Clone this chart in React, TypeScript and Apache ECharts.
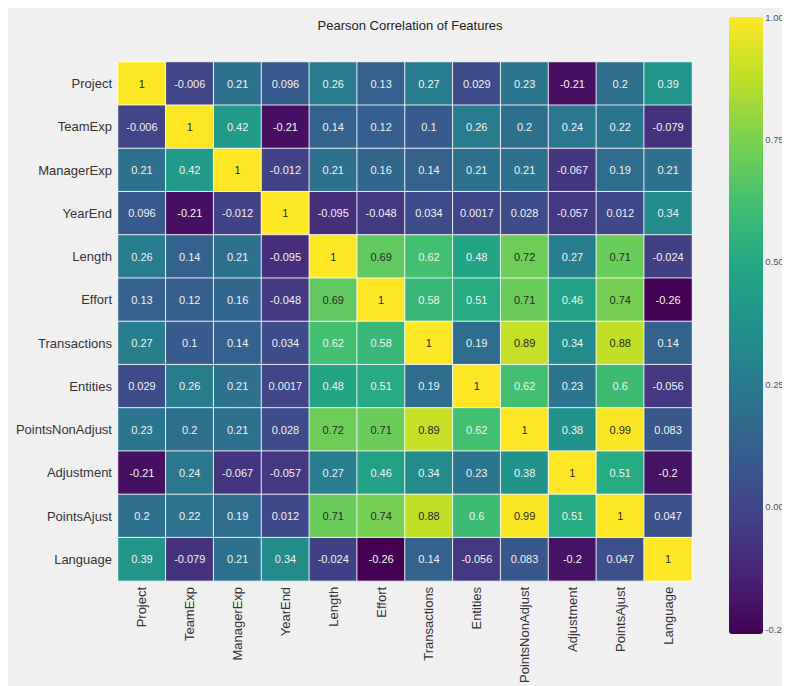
import React, { useEffect, useRef } from "react";
import * as echarts from "echarts";

const features = [
  "Project",
  "TeamExp",
  "ManagerExp",
  "YearEnd",
  "Length",
  "Effort",
  "Transactions",
  "Entities",
  "PointsNonAdjust",
  "Adjustment",
  "PointsAjust",
  "Language",
];

const rowProject = [1, -0.006, 0.21, 0.096, 0.26, 0.13, 0.27, 0.029, 0.23, -0.21, 0.2, 0.39];
const rowTeamExp = [-0.006, 1, 0.42, -0.21, 0.14, 0.12, 0.1, 0.26, 0.2, 0.24, 0.22, -0.079];
const rowManagerExp = [0.21, 0.42, 1, -0.012, 0.21, 0.16, 0.14, 0.21, 0.21, -0.067, 0.19, 0.21];
const rowYearEnd = [0.096, -0.21, -0.012, 1, -0.095, -0.048, 0.034, 0.0017, 0.028, -0.057, 0.012, 0.34];
const rowLength = [0.26, 0.14, 0.21, -0.095, 1, 0.69, 0.62, 0.48, 0.72, 0.27, 0.71, -0.024];
const rowEffort = [0.13, 0.12, 0.16, -0.048, 0.69, 1, 0.58, 0.51, 0.71, 0.46, 0.74, -0.26];
const rowTransactions = [0.27, 0.1, 0.14, 0.034, 0.62, 0.58, 1, 0.19, 0.89, 0.34, 0.88, 0.14];
const rowEntities = [0.029, 0.26, 0.21, 0.0017, 0.48, 0.51, 0.19, 1, 0.62, 0.23, 0.6, -0.056];
const rowPointsNonAdjust = [0.23, 0.2, 0.21, 0.028, 0.72, 0.71, 0.89, 0.62, 1, 0.38, 0.99, 0.083];
const rowAdjustment = [-0.21, 0.24, -0.067, -0.057, 0.27, 0.46, 0.34, 0.23, 0.38, 1, 0.51, -0.2];
const rowPointsAjust = [0.2, 0.22, 0.19, 0.012, 0.71, 0.74, 0.88, 0.6, 0.99, 0.51, 1, 0.047];
const rowLanguage = [0.39, -0.079, 0.21, 0.34, -0.024, -0.26, 0.14, -0.056, 0.083, -0.2, 0.047, 1];

const matrix = [
  rowProject,
  rowTeamExp,
  rowManagerExp,
  rowYearEnd,
  rowLength,
  rowEffort,
  rowTransactions,
  rowEntities,
  rowPointsNonAdjust,
  rowAdjustment,
  rowPointsAjust,
  rowLanguage,
];

const colorbarTicks = [-0.25, 0, 0.25, 0.5, 0.75, 1];
const scaleMin = -0.26;
const scaleMax = 1;

const viridis = [
  "#440154",
  "#482475",
  "#414487",
  "#355f8d",
  "#2a788e",
  "#21918c",
  "#22a884",
  "#44bf70",
  "#7ad151",
  "#bddf26",
  "#fde725",
];

export default function App() {
  const ref = useRef<HTMLDivElement>(null);

  useEffect(() => {
    if (!ref.current) return;
    document.documentElement.style.overflow = "hidden";
    const chart = echarts.init(ref.current, undefined, { renderer: "svg" });

    const data: any[] = [];
    matrix.forEach((row, r) => {
      row.forEach((v, c) => {
        data.push({
          value: [c, r, v],
          label: { color: v >= 0.65 ? "#2a2a2a" : "#f2f2f2" },
        });
      });
    });

    const font = "Liberation Sans, Arial, sans-serif";

    chart.setOption({
      animation: false,
      backgroundColor: "#f0f0f0",
      textStyle: { fontFamily: font },
      title: {
        text: "Pearson Correlation of Features",
        left: 397,
        top: 6,
        textAlign: "center",
        textStyle: { fontSize: 13, fontWeight: "normal", color: "#222", fontFamily: font },
      },
      grid: [
        { left: 110, top: 54, width: 574, height: 528, containLabel: false },
        { left: 721, top: 9, width: 34, height: 617, containLabel: false },
      ],
      xAxis: [
        {
          type: "category",
          data: features,
          gridIndex: 0,
          position: "bottom",
          axisLine: { show: false },
          axisTick: { show: false },
          splitLine: { show: false },
          axisLabel: { rotate: 90, fontSize: 13, color: "#333", margin: 6, fontFamily: font },
        },
        { type: "value", gridIndex: 1, show: false },
      ],
      yAxis: [
        {
          type: "category",
          data: features,
          inverse: true,
          gridIndex: 0,
          axisLine: { show: false },
          axisTick: { show: false },
          splitLine: { show: false },
          axisLabel: { fontSize: 13, color: "#333", margin: 6, fontFamily: font },
        },
        {
          type: "value",
          gridIndex: 1,
          position: "right",
          min: scaleMin,
          max: scaleMax,
          axisLine: { show: false },
          axisTick: { show: false },
          splitLine: { show: false },
          axisLabel: {
            customValues: colorbarTicks,
            formatter: (v: number) => v.toFixed(2),
            fontSize: 9.5,
            color: "#555",
            margin: 8,
            fontFamily: font,
          },
        },
      ],
      visualMap: {
        type: "continuous",
        min: scaleMin,
        max: scaleMax,
        seriesIndex: 0,
        calculable: false,
        show: true,
        left: 721,
        top: 9,
        itemWidth: 34,
        itemHeight: 617,
        padding: 0,
        orient: "vertical",
        inRange: { color: viridis },
        text: ["", ""],
        textGap: 0,
      },
      series: [
        {
          type: "heatmap",
          xAxisIndex: 0,
          yAxisIndex: 0,
          data,
          itemStyle: { borderColor: "rgba(255,255,255,0.85)", borderWidth: 1 },
          label: {
            show: true,
            fontSize: 11,
            fontFamily: font,
            formatter: (p: any) => String(p.value[2]),
          },
          emphasis: { disabled: true },
        },
      ],
    });

    return () => chart.dispose();
  }, []);

  return <div ref={ref} style={{ width: 782, height: 678 }} />;
}
